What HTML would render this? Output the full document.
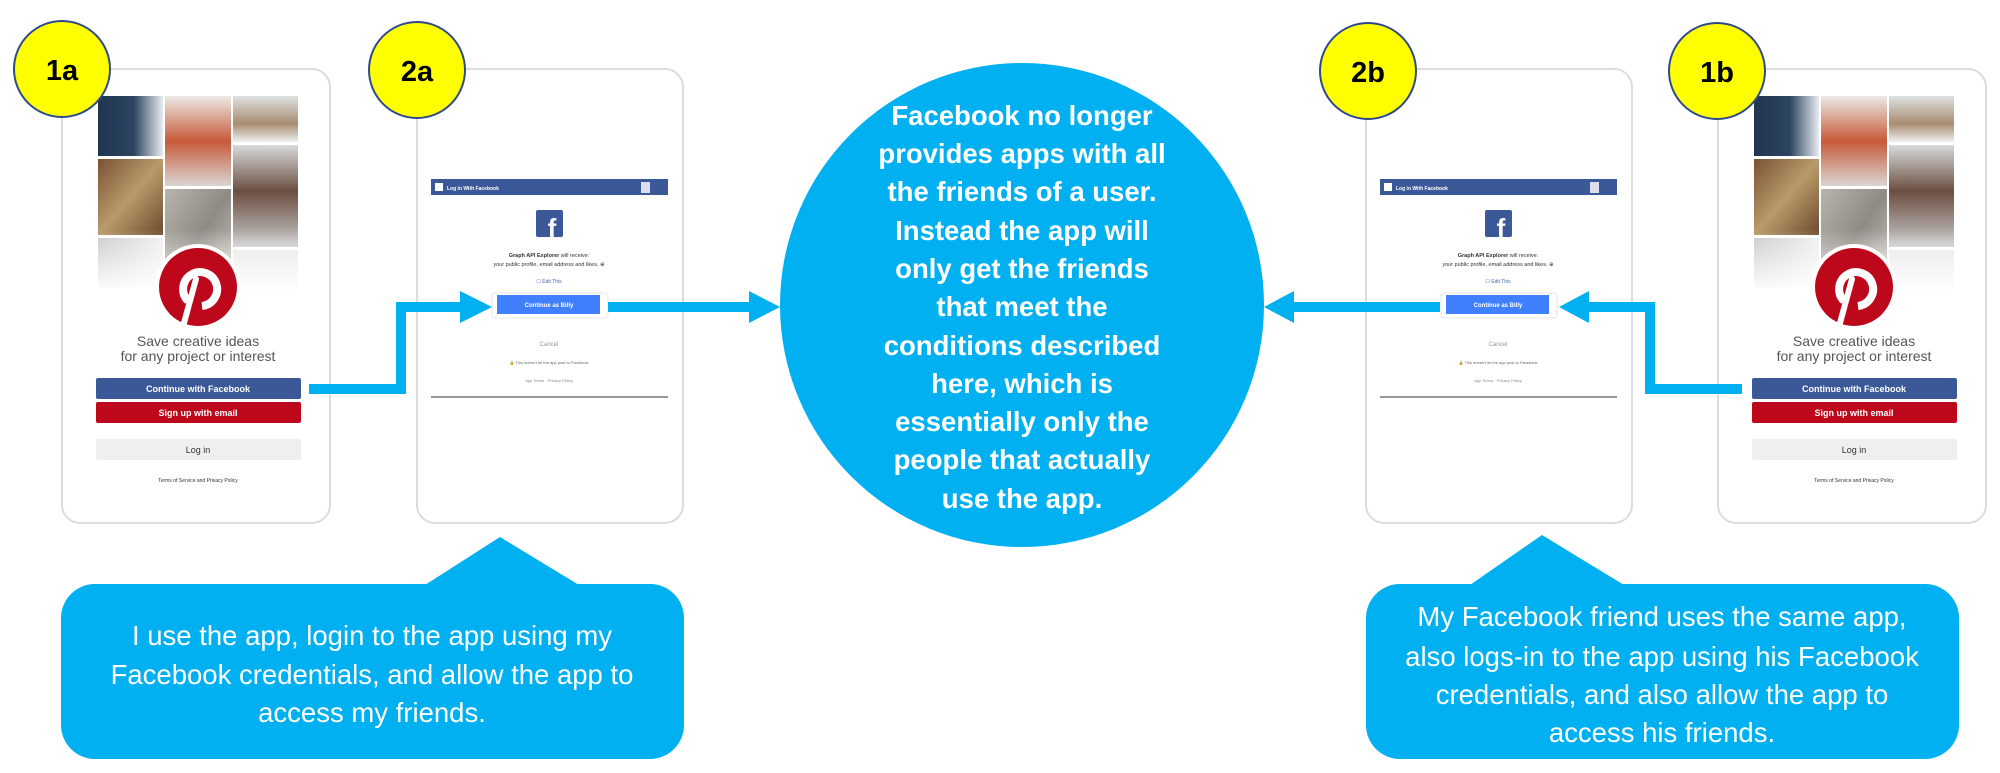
<!DOCTYPE html>
<html><head><meta charset="utf-8"><style>
html,body{margin:0;padding:0;background:#fff;}
svg{display:block;}
text{font-family:"Liberation Sans",Arial,sans-serif;}
</style></head><body>
<svg width="2000" height="773" viewBox="0 0 2000 773" xmlns="http://www.w3.org/2000/svg">
<defs>
  <linearGradient id="fade" x1="0" y1="0" x2="0" y2="1">
    <stop offset="0" stop-color="#fff" stop-opacity="0"/>
    <stop offset="1" stop-color="#fff" stop-opacity="1"/>
  </linearGradient>
  <linearGradient id="g1" x1="0" y1="0" x2="1" y2="0"><stop offset="0" stop-color="#1f3550"/><stop offset="0.55" stop-color="#2c4460"/><stop offset="1" stop-color="#e8ecef"/></linearGradient>
  <linearGradient id="g2" x1="0" y1="0" x2="1" y2="1"><stop offset="0" stop-color="#7a5234"/><stop offset="0.5" stop-color="#b99a6a"/><stop offset="1" stop-color="#6e4a2e"/></linearGradient>
  <linearGradient id="g3" x1="0" y1="0" x2="0" y2="1"><stop offset="0" stop-color="#eceae6"/><stop offset="0.5" stop-color="#c75a3a"/><stop offset="1" stop-color="#d9d6d2"/></linearGradient>
  <linearGradient id="g4" x1="0" y1="0" x2="1" y2="1"><stop offset="0" stop-color="#b8b4ae"/><stop offset="0.5" stop-color="#8f8a84"/><stop offset="1" stop-color="#cfcac4"/></linearGradient>
  <linearGradient id="g5" x1="0" y1="0" x2="0" y2="1"><stop offset="0" stop-color="#dfe2e2"/><stop offset="0.6" stop-color="#a88c70"/><stop offset="1" stop-color="#eef0f0"/></linearGradient>
  <linearGradient id="g6" x1="0" y1="0" x2="0" y2="1"><stop offset="0" stop-color="#d8dadb"/><stop offset="0.45" stop-color="#6b4f40"/><stop offset="1" stop-color="#c9c9cb"/></linearGradient>
  <linearGradient id="g7" x1="0" y1="0" x2="1" y2="0"><stop offset="0" stop-color="#c8c8c8"/><stop offset="1" stop-color="#eeeeee"/></linearGradient>

  <g id="pin">
    <rect x="0" y="0" width="268" height="454" rx="18" fill="#fff" stroke="#dcdcdc" stroke-width="2"/>
    <rect x="36" y="27" width="65" height="60" fill="url(#g1)"/>
    <rect x="36" y="90" width="65" height="76" fill="url(#g2)"/>
    <rect x="36" y="169" width="65" height="50" fill="url(#g7)"/>
    <rect x="103" y="27" width="66" height="90" fill="url(#g3)"/>
    <rect x="103" y="120" width="66" height="100" fill="url(#g4)"/>
    <rect x="171" y="27" width="65" height="46" fill="url(#g5)"/>
    <rect x="171" y="76" width="65" height="102" fill="url(#g6)"/>
    <rect x="171" y="181" width="65" height="40" fill="#e6e6e6"/>
    <rect x="34" y="160" width="204" height="64" fill="url(#fade)"/>
    <circle cx="136" cy="218" r="43" fill="#fff"/>
    <circle cx="136" cy="218" r="39" fill="#bd081c"/>
    <path d="M126 232 A17 17 0 1 1 140 237" fill="none" stroke="#fff" stroke-width="8"/>
    <path d="M134 210 L122 254" stroke="#fff" stroke-width="6" stroke-linecap="round"/>
    <text x="136" y="277" font-size="14" fill="#555" text-anchor="middle">Save creative ideas</text>
    <text x="136" y="292" font-size="14" fill="#555" text-anchor="middle">for any project or interest</text>
    <rect x="34" y="309" width="205" height="21" rx="2" fill="#3b5998"/>
    <text x="136" y="323" font-size="9" fill="#fff" text-anchor="middle" font-weight="bold">Continue with Facebook</text>
    <rect x="34" y="333" width="205" height="21" rx="2" fill="#bd081c"/>
    <text x="136" y="347" font-size="9" fill="#fff" text-anchor="middle" font-weight="bold">Sign up with email</text>
    <rect x="34" y="370" width="205" height="21" rx="2" fill="#efefef"/>
    <text x="136" y="384" font-size="9" fill="#333" text-anchor="middle">Log in</text>
    <text x="136" y="413" font-size="5" fill="#333" text-anchor="middle">Terms of Service and Privacy Policy</text>
  </g>

  <g id="fb">
    <rect x="0" y="0" width="266" height="454" rx="18" fill="#fff" stroke="#dcdcdc" stroke-width="2"/>
    <rect x="14" y="110" width="237" height="16" fill="#3b5998"/>
    <rect x="18" y="114" width="8" height="8" fill="#fff"/>
    <text x="30" y="121" font-size="5" fill="#fff" font-weight="bold">Log in With Facebook</text>
    <rect x="224" y="113" width="9" height="11" fill="#dde"/>
    <rect x="119" y="141" width="27" height="27" rx="2" fill="#3b5998"/>
    <text x="135" y="168" font-size="26" fill="#fff" font-weight="bold" text-anchor="middle">f</text>
    <text x="132" y="188" font-size="5.5" fill="#333" text-anchor="middle"><tspan font-weight="bold">Graph API Explorer</tspan> will receive:</text>
    <text x="132" y="197" font-size="5.5" fill="#333" text-anchor="middle">your public profile, email address and likes. ⊕</text>
    <text x="132" y="214" font-size="5" fill="#4267b2" text-anchor="middle">☐ Edit This</text>
    <rect x="75" y="224" width="116" height="25" rx="3" fill="#fff" stroke="#eee" stroke-width="1.5"/>
    <rect x="80" y="226" width="103" height="19" fill="#4080ff"/>
    <text x="132" y="238" font-size="6" fill="#fff" text-anchor="middle" font-weight="bold">Continue as Billy</text>
    <text x="132" y="277" font-size="6" fill="#90949c" text-anchor="middle">Cancel</text>
    <text x="132" y="295" font-size="4" fill="#666" text-anchor="middle">🔒 This doesn't let the app post to Facebook</text>
    <text x="132" y="313" font-size="4" fill="#888" text-anchor="middle">App Terms · Privacy Policy</text>
    <line x1="14" y1="328" x2="251" y2="328" stroke="#777" stroke-width="1.5"/>
  </g>
</defs>

<use href="#pin" x="62" y="69"/>
<use href="#fb" x="417" y="69"/>
<use href="#fb" x="1366" y="69"/>
<use href="#pin" x="1718" y="69"/>

<g fill="#00b0f0">
  <path d="M309 384 H396 V302 H462 V312 H406 V394 H309 Z"/>
  <polygon points="460,291 492,307 460,323"/>
  <rect x="608" y="302" width="143" height="10"/>
  <polygon points="749,291 780,307 749,323"/>
  <rect x="1292" y="302" width="148" height="10"/>
  <polygon points="1294,291 1264,307 1294,323"/>
  <path d="M1742 384 H1655 V302 H1586 V312 H1645 V394 H1742 Z"/>
  <polygon points="1589,291 1559,307 1589,323"/>
</g>

<circle cx="1022" cy="305" r="242" fill="#00b0f0"/>
<g font-size="27.5" font-weight="bold" fill="#fff" text-anchor="middle">
  <text x="1022" y="125">Facebook no longer</text>
  <text x="1022" y="163">provides apps with all</text>
  <text x="1022" y="201">the friends of a user.</text>
  <text x="1022" y="240">Instead the app will</text>
  <text x="1022" y="278">only get the friends</text>
  <text x="1022" y="316">that meet the</text>
  <text x="1022" y="355">conditions described</text>
  <text x="1022" y="393">here, which is</text>
  <text x="1022" y="431">essentially only the</text>
  <text x="1022" y="469">people that actually</text>
  <text x="1022" y="508">use the app.</text>
</g>

<rect x="61" y="584" width="623" height="175" rx="34" fill="#00b0f0"/>
<polygon points="425,585 500,537 579,585" fill="#00b0f0"/>
<g font-size="27.5" fill="#fff" text-anchor="middle">
  <text x="372" y="645">I use the app, login to the app using my</text>
  <text x="372" y="684">Facebook credentials, and allow the app to</text>
  <text x="372" y="722">access my friends.</text>
</g>
<rect x="1366" y="584" width="593" height="175" rx="34" fill="#00b0f0"/>
<polygon points="1470,585 1542,535 1624,585" fill="#00b0f0"/>
<g font-size="27.5" fill="#fff" text-anchor="middle">
  <text x="1662" y="626">My Facebook friend uses the same app,</text>
  <text x="1662" y="666">also logs-in to the app using his Facebook</text>
  <text x="1662" y="704">credentials, and also allow the app to</text>
  <text x="1662" y="742">access his friends.</text>
</g>

<g stroke="#2f4a8a" stroke-width="2" fill="#ffff00">
  <circle cx="62" cy="69" r="48"/>
  <circle cx="417" cy="70" r="48"/>
  <circle cx="1368" cy="71" r="48"/>
  <circle cx="1717" cy="71" r="48"/>
</g>
<g font-size="29" font-weight="bold" fill="#000" text-anchor="middle">
  <text x="62" y="80">1a</text>
  <text x="417" y="81">2a</text>
  <text x="1368" y="82">2b</text>
  <text x="1717" y="82">1b</text>
</g>
</svg>
</body></html>
